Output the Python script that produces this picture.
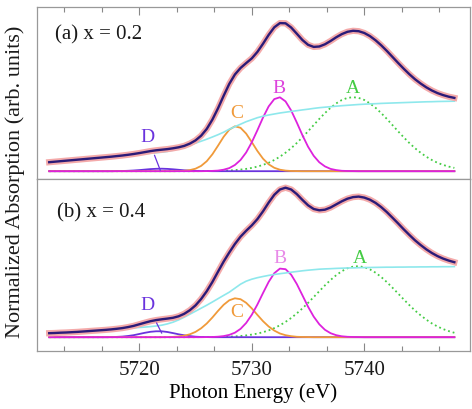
import pandas as pd, seaborn as sns, matplotlib
matplotlib.use("Agg")
import matplotlib.pyplot as plt
from matplotlib.ticker import MultipleLocator

# photon energy grid (eV), 0.5 eV steps from 5712 to 5748
energy = [5712 + 0.5 * i for i in range(73)]

# arctangent-like edge background (arb. units)
bg_a = [.09,.095,.10,.105,.11,.115,.12,.125,.13,.135,.14,.145,.15,.155,.16,.165,.17,.175,.18,.185,
        .19,.198,.21,.224,.24,.259,.28,.30,.32,.342,.365,.39,.42,.445,.47,.495,.515,.535,.55,.562,
        .572,.582,.59,.598,.605,.613,.62,.628,.635,.64,.645,.65,.655,.659,.663,.667,.67,.673,.675,.678,
        .68,.682,.684,.686,.688,.69,.692,.694,.695,.697,.698,.699,.70]
bg_b = [.04,.042,.045,.047,.05,.053,.057,.061,.065,.069,.073,.077,.081,.085,.089,.093,.097,.101,.106,.112,
        .12,.133,.15,.173,.20,.23,.26,.29,.32,.352,.385,.418,.45,.49,.53,.56,.58,.595,.607,.618,
        .627,.635,.642,.65,.657,.664,.67,.675,.68,.683,.685,.688,.69,.692,.693,.695,.696,.697,.698,.699,
        .70,.70,.701,.701,.702,.702,.703,.703,.704,.704,.705,.705,.706]

# fitted peak components, in 1e-3 arb. units
peak_A_a = [0,0,0,0,0,0,0,0,0,0, 0,0,0,0,0,0,0,0,0,0, 0,0,0,0,0,0,0,
            1,1,2,3,5,7,11,16,23,33,46,63,84,112,145,185,230,282,339,399,461,523,581,634,678,712,733,
            740,733,712,678,634,581,523,461,399,339,282,230,185,145,112,84,63,46,33]
peak_B_a = [0,0,0,0,0,0,0,0,0,0, 0,0,0,0,0,0,0,0,0,0, 0,0,0,0,0,0,0,0,
            1,3,6,15,31,62,112,187,289,410,537,648,721,739,698,607,487,360,245,154,89,48,23,11,4,2,1,
            0,0,0,0,0,0,0,0,0,0, 0,0,0,0,0,0,0,0]
peak_C_a = [0,0,0,0,0,0,0,0,0,0, 0,0,0,0,0,0,0,0,0,0, 0,0,0,
            1,4,11,25,53,100,169,255,344,415,449,434,376,291,202,125,69,34,15,6,2,1,
            0,0,0,0,0,0,0,0,0,0, 0,0,0,0,0,0,0,0,0,0, 0,0,0,0,0,0,0,0]
peak_D_a = [0,0,0,0,0,0,0,0,0,0, 0,0,
            1,2,4,7,11,16,21,24,25,23,19,14,9,6,3,1,1,
            0,0,0,0,0,0,0,0,0,0, 0,0,0,0,0,0,0,0,0,0, 0,0,0,0,0,0,0,0,0,0, 0,0,0,0,0,0,0,0,0,0, 0,0,0,0]
peak_A_b = [0,0,0,0,0,0,0,0,0,0, 0,0,0,0,0,0,0,0,0,0, 0,0,0,0,0,0,0,
            1,1,1,2,3,5,8,12,18,26,36,50,68,91,119,153,192,238,288,343,401,460,518,572,620,660,689,
            706,710,700,678,645,602,551,495,437,378,321,267,219,176,138,107,81,61,44]
peak_B_b = [0,0,0,0,0,0,0,0,0,0, 0,0,0,0,0,0,0,0,0,0, 0,0,0,0,0,0,0,0,
            1,2,5,11,23,45,83,142,224,327,442,553,640,686,680,625,532,419,305,206,129,74,40,20,9,4,2,1,
            0,0,0,0,0,0,0,0,0,0, 0,0,0,0,0,0,0]
peak_C_b = [0,0,0,0,0,0,0,0,0,0, 0,0,0,0,0,0,0,0,0,0, 0,
            1,3,7,15,29,53,89,137,197,263,324,369,389,380,344,288,223,160,107,66,37,20,10,4,2,1,
            0,0,0,0,0,0,0,0,0,0, 0,0,0,0,0,0,0,0,0,0, 0,0,0,0,0,0]
peak_D_b = [0,0,0,0,0,0,0,0,0,0, 0,
            1,3,6,12,20,32,44,54,59,59,52,41,29,19,11,5,2,1,
            0,0,0,0,0,0,0,0,0,0, 0,0,0,0,0,0,0,0,0,0, 0,0,0,0,0,0,0,0,0,0, 0,0,0,0,0,0,0,0,0,0, 0,0,0,0]

panel_titles = ["(a) x = 0.2", "(b) x = 0.4"]
peak_names = ["A", "B", "C", "D"]
xticks = [5720, 5730, 5740]

def frame(bg, A, B, C, D):
    df = pd.DataFrame({"energy": energy, "bg": bg, "A": A, "B": B, "C": C, "D": D})
    for k in peak_names:
        df[k] = df[k] / 1000.0
    df["fit"] = df[["bg"] + peak_names].sum(axis=1)
    return df

dfa = frame(bg_a, peak_A_a, peak_B_a, peak_C_a, peak_D_a)
dfb = frame(bg_b, peak_A_b, peak_B_b, peak_C_b, peak_D_b)

plt.rcParams['font.family'] = ['Liberation Serif', 'DejaVu Serif']
plt.rcParams['text.color'] = '#1a1a1a'
plt.rcParams['xtick.color'] = '#888888'
plt.rcParams['xtick.labelcolor'] = '#1a1a1a'

fig, axes = plt.subplots(2, 1, figsize=(4.72, 4.10), dpi=100, sharex=True)
fig.subplots_adjust(left=0.078, right=0.996, top=0.980, bottom=0.141, hspace=0)
cols = {"A": "#44cc44", "B": "#dd22dd", "C": "#f09a3a", "D": "#6a33dd"}
for ax, df in [(axes[0], dfa), (axes[1], dfb)]:
    sns.lineplot(data=df, x="energy", y="A", ax=ax, color=cols["A"], lw=1.3, ls=":")
    for k in ["D", "C", "B"]:
        sns.lineplot(data=df, x="energy", y=k, ax=ax, color=cols[k], lw=1.3)
    sns.lineplot(data=df, x="energy", y="bg", ax=ax, color="#8ee8ec", lw=1.2)
    sns.lineplot(data=df, x="energy", y="fit", ax=ax, color="#f4aaaa", lw=4.5)
    sns.lineplot(data=df, x="energy", y="fit", ax=ax, color="#2b1b78", lw=1.7)
    ax.set_xlabel(""); ax.set_ylabel("")
axes[0].set_ylim(-0.08, 1.64); axes[1].set_ylim(-0.14, 1.58)
for ax in axes:
    ax.set_xlim(5710.9, 5749.4)
    ax.set_yticks([])
    for s in ax.spines.values():
        s.set_color("#999999"); s.set_linewidth(0.9)
    ax.set_xticks(xticks)
    ax.xaxis.set_minor_locator(MultipleLocator(10/3))
axes[0].tick_params(axis='x', which='both', direction='in', top=True, bottom=False, labeltop=False, labelbottom=False)
axes[1].tick_params(axis='x', which='both', direction='in', top=False, bottom=True, labelsize=15, pad=6.5)
for ax in axes:
    ax.tick_params(axis='x', which='major', length=6, width=0.8)
    ax.tick_params(axis='x', which='minor', length=3.5, width=0.8)
axes[1].set_xlabel("Photon Energy (eV)", fontsize=15, labelpad=2)
fig.text(0.032, 0.556, "Normalized Absorption (arb. units)", rotation=90, fontsize=16, ha="center", va="center")
axes[0].text(0.042, 0.843, panel_titles[0], transform=axes[0].transAxes, fontsize=15, va="center")
axes[1].text(0.046, 0.808, panel_titles[1], transform=axes[1].transAxes, fontsize=15, va="center")
lab_a = [("A", 5739.0, 0.84, "#44cc44"), ("B", 5732.4, 0.84, "#dd44dd"), ("C", 5728.7, 0.59, "#f09a3a")]
lab_b = [("A", 5739.6, 0.80, "#44cc44"), ("B", 5732.5, 0.80, "#e88ae8"), ("C", 5728.7, 0.26, "#f09a3a")]
for ax, labs in [(axes[0], lab_a), (axes[1], lab_b)]:
    for t, x, y, col in labs:
        ax.text(x, y, t, color=col, fontsize=14, ha="center", va="center")
axes[0].annotate("D", xy=(5721.87, 0.01), xytext=(5720.7, 0.35), color="#6a33dd", fontsize=14, ha="center", va="center",
                 arrowprops=dict(arrowstyle="-", color="#6a33dd", lw=0.9, shrinkA=6, shrinkB=0))
axes[1].annotate("D", xy=(5722.0, 0.04), xytext=(5720.7, 0.33), color="#6a33dd", fontsize=14, ha="center", va="center",
                 arrowprops=dict(arrowstyle="-", color="#6a33dd", lw=0.9, shrinkA=6, shrinkB=0))
fig.savefig("out.png")
